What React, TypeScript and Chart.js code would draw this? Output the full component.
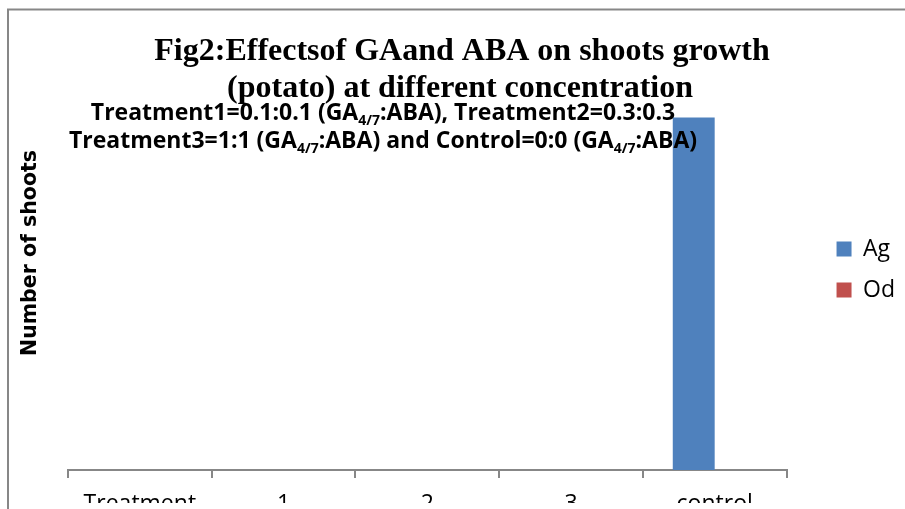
import React, { useEffect, useRef } from "react";
import { Chart, registerables } from "chart.js";

Chart.register(...registerables);

const categories = ["Treatment", "1", "2", "3", "control"];
const agValues = [0, 0, 0, 0, 3.25];
const odValues = [0, 0, 0, 0, 0];
const seriesNames = ["Ag", "Od"];
const titleLines = ["Fig2:Effectsof GAand ABA on shoots growth", "(potato) at different concentration"];
const subtitleLines: [string, boolean][][] = [
  [["Treatment1=0.1:0.1 (GA", false], ["4/7", true], [":ABA), Treatment2=0.3:0.3", false]],
  [["Treatment3=1:1 (GA", false], ["4/7", true], [":ABA) and Control=0:0 (GA", false], ["4/7", true], [":ABA)", false]],
];
const yAxisTitle = "Number of shoots";

const framePlugin = {
  id: "frame",
  beforeDraw(chart: any) {
    const ctx = chart.ctx;
    ctx.save();
    ctx.fillStyle = "#ffffff";
    ctx.fillRect(0, 0, chart.width, chart.height);
    ctx.strokeStyle = "#878787";
    ctx.lineWidth = 2;
    ctx.strokeRect(8, 9.5, chart.width + 20, chart.height + 20);
    ctx.restore();
  },
};

const textPlugin = {
  id: "texts",
  afterDraw(chart: any) {
    const ctx = chart.ctx;
    ctx.save();
    ctx.fillStyle = "#000000";
    ctx.textBaseline = "alphabetic";
    ctx.textAlign = "left";
    // main title
    ctx.font = "bold 32px 'Liberation Serif'";
    const tCenters = [462, 460];
    const tBase = [60, 97];
    titleLines.forEach((line, i) => {
      const w = ctx.measureText(line).width;
      ctx.fillText(line, tCenters[i] - w / 2, tBase[i]);
    });
    // subtitle with subscripts
    const size = 23;
    const subSize = 14;
    const sCenter = 383;
    const sBase = [120, 148];
    subtitleLines.forEach((segs, i) => {
      let total = 0;
      segs.forEach(([t, sub]) => {
        ctx.font = `bold ${sub ? subSize : size}px 'Open Sans'`;
        total += ctx.measureText(t).width;
      });
      let x = sCenter - total / 2;
      segs.forEach(([t, sub]) => {
        ctx.font = `bold ${sub ? subSize : size}px 'Open Sans'`;
        ctx.fillText(t, x, sBase[i] + (sub ? 5 : 0));
        x += ctx.measureText(t).width;
      });
    });
    ctx.restore();
  },
};

export default function App() {
  const ref = useRef<HTMLCanvasElement | null>(null);
  useEffect(() => {
    if (!ref.current) return;
    const chart = new Chart(ref.current, {
      type: "bar",
      data: {
        labels: categories,
        datasets: [
          { label: seriesNames[0], data: agValues, backgroundColor: "#4F81BD", borderWidth: 0 },
          { label: seriesNames[1], data: odValues, backgroundColor: "#C0504D", borderWidth: 0 },
        ],
      },
      options: {
        responsive: false,
        animation: false,
        devicePixelRatio: 1,
        datasets: { bar: { categoryPercentage: 84 / 144, barPercentage: 1 } },
        layout: { padding: { top: 36, left: 14, right: 0, bottom: 42 } },
        plugins: {
          title: { display: false },
          tooltip: { enabled: false },
          legend: {
            position: "right",
            align: "center",
            labels: {
              boxWidth: 15,
              boxHeight: 15,
              padding: 18,
              color: "#000",
              font: { family: "'Open Sans'", size: 23 },
            },
          },
        },
        scales: {
          x: {
            grid: { display: true, drawOnChartArea: false, offset: true, tickLength: 8, color: "#878787", lineWidth: 2 },
            border: { display: true, color: "#878787", width: 2 },
            ticks: { color: "#000", padding: 13, font: { family: "'Open Sans'", size: 23 } },
            afterFit: (scale: any) => {
              scale.height = 33;
            },
          },
          y: {
            min: 0,
            max: 4,
            grid: { display: false, drawTicks: false },
            border: { display: false },
            ticks: { display: false },
            title: {
              display: true,
              text: yAxisTitle,
              color: "#000",
              padding: { top: 4, bottom: 25.4 },
              font: { family: "'DejaVu Sans'", size: 20.5, weight: "bold" },
            },
          },
          y2: {
            position: "right",
            display: true,
            grid: { display: false, drawTicks: false },
            border: { display: false },
            ticks: { display: false },
            afterFit: (scale: any) => {
              scale.width = 32;
            },
          },
        },
      },
      plugins: [framePlugin, textPlugin],
    });
    return () => chart.destroy();
  }, []);
  return (
    <div style={{ position: "fixed", left: 0, top: 0, width: 905, height: 509, overflow: "hidden", background: "#fff" }}>
      <canvas ref={ref} width={905} height={545} style={{ display: "block" }} />
    </div>
  );
}
